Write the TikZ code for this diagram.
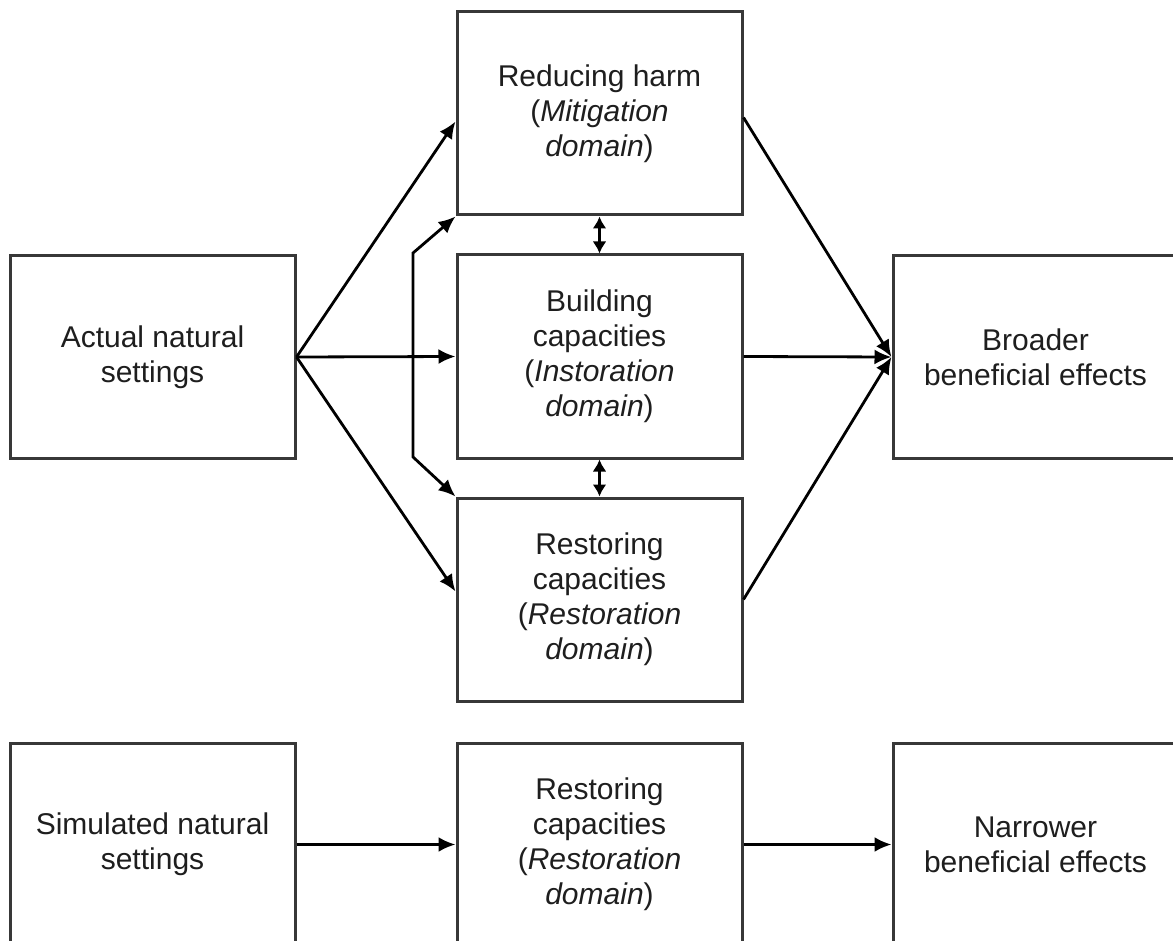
\documentclass[tikz,border=0pt]{standalone}
\usepackage{fontspec}
\setmainfont{Liberation Sans}
\usetikzlibrary{arrows.meta,calc}
\definecolor{boxgray}{HTML}{383838}
\definecolor{textgray}{HTML}{1E1E1E}
\begin{document}
\begin{tikzpicture}[x=0.5pt,y=-0.5pt,
  box/.style={draw=boxgray,line width=1.5pt,minimum width=142.5pt,minimum height=101.5pt,
    align=center,font=\fontsize{15}{17.5}\selectfont,text=textgray,inner sep=0pt},
  conn/.style={line width=1.4pt,-{Latex[length=8.5pt,width=7.5pt]}},
  dbl/.style={line width=1.4pt,{Latex[length=6pt,width=7pt]}-{Latex[length=6pt,width=7pt]}}]
\clip (0,0) rectangle (1173,941);
\fill[white] (0,0) rectangle (1173,941);
% top row
\node[box] (harm) at (599.5,113.5) {Reducing harm\\(\textit{Mitigation}\\\textit{domain})};
\node[box] (build) at (599.5,356.5) {Building\\capacities\\(\textit{Instoration}\\\textit{domain})};
\node[box] (rest) at (599.5,599.5) {Restoring\\capacities\\(\textit{Restoration}\\\textit{domain})};
\node[box] (actual) at (152.5,357) {Actual natural\\settings};
\node[box] (broad) at (1035.5,357) {Broader\\beneficial effects};
% bottom row
\node[box] (sim) at (152.5,844.5) {Simulated natural\\settings};
\node[box] (rest2) at (599.5,844.5) {Restoring\\capacities\\(\textit{Restoration}\\\textit{domain})};
\node[box] (narrow) at (1035.5,844.5) {Narrower\\beneficial effects};
% connectors
\draw[conn] (actual.east) -- ([yshift=-4pt]harm.west);
\draw[conn] (actual.east) -- (build.west);
\draw[conn] (actual.east) -- ([yshift=4pt]rest.west);
\draw[conn] ([yshift=-2pt]harm.east) -- (broad.west);
\draw[conn] (build.east) -- (broad.west);
\draw[conn] (rest.east) -- (broad.west);
\coordinate (b1) at (413,253);
\coordinate (b2) at (413,457);
\draw[line width=1.4pt,{Latex[length=8.5pt,width=7.5pt]}-{Latex[length=8.5pt,width=7.5pt]}]
  (harm.south west) -- (b1) -- (b2) -- (rest.north west);
\draw[dbl] (harm.south) -- (build.north);
\draw[dbl] (build.south) -- (rest.north);
\draw[conn] (sim.east) -- (rest2.west);
\draw[conn] (rest2.east) -- (narrow.west);
\end{tikzpicture}
\end{document}
